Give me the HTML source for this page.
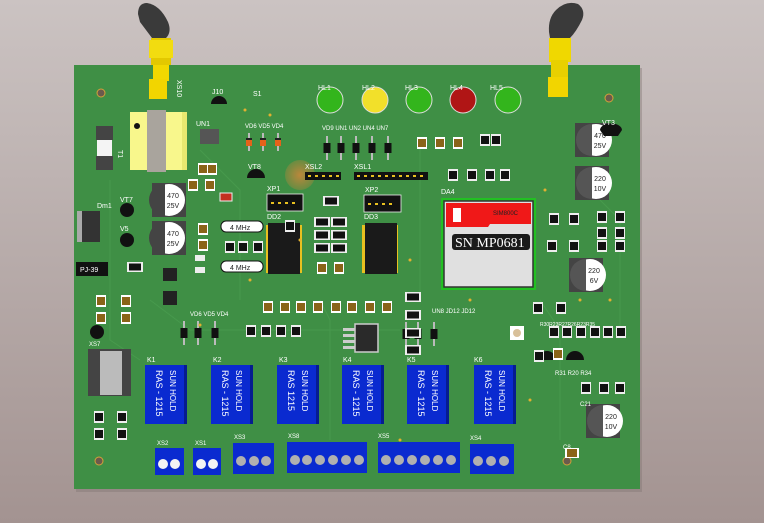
<!DOCTYPE html>
<html><head><meta charset="utf-8"><style>
html,body{margin:0;padding:0;width:764px;height:523px;overflow:hidden;background:#b9adab}
svg{display:block}
text{font-family:"Liberation Sans",sans-serif;fill:#fff}
text.d{fill:#222}
</style></head><body>
<svg width="764" height="523" viewBox="0 0 764 523" xmlns="http://www.w3.org/2000/svg">
<defs>
<linearGradient id="bg" x1="0" y1="0" x2="0" y2="1"><stop offset="0" stop-color="#cbc3c2"/><stop offset="1" stop-color="#a39391"/></linearGradient>
<radialGradient id="glow"><stop offset="0" stop-color="#c9863a" stop-opacity=".9"/><stop offset="1" stop-color="#c9863a" stop-opacity=".3"/></radialGradient>
<g id="cc"><rect x="-5" y="-6" width="10" height="12" fill="#fff"/><rect x="-4" y="-4" width="8" height="8" fill="#8a6418"/></g>
<g id="rr"><rect x="-5" y="-6" width="10" height="12" fill="#eee"/><rect x="-4" y="-4" width="8" height="8" fill="#111"/></g>
<g id="rh"><rect x="-8" y="-5" width="16" height="10" fill="#eee"/><rect x="-6" y="-3.5" width="12" height="7" fill="#111"/></g>
<g id="dv"><line x1="0" y1="-12" x2="0" y2="12" stroke="#bbb" stroke-width="2"/><rect x="-3.5" y="-5" width="7" height="10" fill="#111"/></g>
<g id="dvo"><line x1="0" y1="-9" x2="0" y2="9" stroke="#bbb" stroke-width="2"/><rect x="-3" y="-4" width="6" height="8" fill="#e5621a"/><rect x="-3" y="-4" width="6" height="2" fill="#222"/></g>
</defs>
<rect width="764" height="523" fill="url(#bg)"/>
<rect x="76" y="68" width="566" height="424" fill="#7f7371" opacity=".4"/>
<rect x="74" y="65" width="566" height="424" fill="#3f8f45"/>
<g stroke="#4a9c4f" stroke-width="1" fill="none" opacity=".8">
<path d="M110 180 L110 340 L140 360"/><path d="M200 150 L240 190 L240 300"/><path d="M420 140 L420 300"/><path d="M540 300 L560 330 L560 440"/><path d="M600 200 L620 220 L620 330"/><path d="M320 300 L330 320 L330 440"/><path d="M150 300 L190 330 L400 330"/>
</g>
<g fill="#6b5a4c" stroke="#d4a23a" stroke-width="1"><circle cx="101" cy="93" r="4"/><circle cx="609" cy="98" r="4"/><circle cx="99" cy="461" r="4"/><circle cx="567" cy="461" r="4"/></g>
<!-- antennas -->
<g>
<rect x="151" y="38" width="20" height="27" fill="#e3c800"/><rect x="149" y="40" width="24" height="18" fill="#f2dc10"/>
<rect x="153" y="65" width="16" height="16" fill="#f2d800"/><rect x="149" y="79" width="18" height="20" fill="#f2d500"/>
<path d="M138 14 Q138 3 147 3 Q160 5 168 22 Q172 32 166 38 L152 38 Q146 30 140 22 Z" fill="#3a3a3a"/>
<text x="177" y="80" font-size="7" transform="rotate(90 177 80)">XS10</text>
<rect x="549" y="38" width="22" height="24" fill="#f0d800"/><rect x="551" y="60" width="17" height="18" fill="#e8d000"/><rect x="548" y="77" width="20" height="20" fill="#f2d500"/>
<path d="M549 32 Q548 18 556 10 Q566 0 578 4 Q586 10 582 20 Q576 32 570 38 L550 38 Z" fill="#3a3a3a"/>
</g>
<!-- transformer -->
<rect x="130" y="112" width="56" height="58" fill="#f8f78c"/><rect x="182" y="112" width="5" height="58" fill="#e8e870"/>
<rect x="147" y="110" width="19" height="62" fill="#a9a49d"/><circle cx="137" cy="126" r="3" fill="#111"/>
<text x="118" y="150" font-size="7" transform="rotate(90 118 150)">T1</text>
<rect x="96" y="126" width="17" height="14" fill="#444"/><rect x="97" y="140" width="15" height="16" fill="#f4f4f4"/><rect x="96" y="156" width="17" height="14" fill="#444"/>
<rect x="77" y="211" width="6" height="31" fill="#aaa"/><rect x="82" y="211" width="18" height="31" fill="#333"/>
<text x="97" y="208" font-size="7">Dm1</text>
<rect x="76" y="262" width="32" height="14" fill="#111"/><text x="80" y="272" font-size="7">PJ-39</text>
<!-- electrolytic caps -->
<g font-size="7" text-anchor="middle">
<g transform="translate(169,200)"><rect x="-17" y="-17" width="34" height="34" fill="#444"/><circle r="16" fill="#fff"/><path d="M-4 -16 A16 16 0 0 0 -4 16 Z" fill="#444"/><text class="d" x="4" y="-2">470</text><text class="d" x="4" y="8">25V</text></g>
<g transform="translate(169,238)"><rect x="-17" y="-17" width="34" height="34" fill="#444"/><circle r="16" fill="#fff"/><path d="M-4 -16 A16 16 0 0 0 -4 16 Z" fill="#444"/><text class="d" x="4" y="-2">470</text><text class="d" x="4" y="8">25V</text></g>
<g transform="translate(592,140)"><rect x="-17" y="-17" width="34" height="34" fill="#444"/><circle cx="4" r="16" fill="#fff"/><path d="M0 -16 A16 16 0 0 0 0 16 Z" fill="#555"/><text class="d" x="8" y="-2">470</text><text class="d" x="8" y="8">25V</text></g>
<g transform="translate(592,183)"><rect x="-17" y="-17" width="34" height="34" fill="#444"/><circle cx="4" r="16" fill="#fff"/><path d="M0 -16 A16 16 0 0 0 0 16 Z" fill="#555"/><text class="d" x="8" y="-2">220</text><text class="d" x="8" y="8">10V</text></g>
<g transform="translate(586,275)"><rect x="-17" y="-17" width="34" height="34" fill="#444"/><circle cx="4" r="16" fill="#fff"/><path d="M0 -16 A16 16 0 0 0 0 16 Z" fill="#555"/><text class="d" x="8" y="-2">220</text><text class="d" x="8" y="8">6V</text></g>
<g transform="translate(603,421)"><rect x="-17" y="-17" width="34" height="34" fill="#444"/><circle cx="4" r="16" fill="#fff"/><path d="M0 -16 A16 16 0 0 0 0 16 Z" fill="#555"/><text class="d" x="8" y="-2">220</text><text class="d" x="8" y="8">10V</text></g>
</g>
<g stroke="#ddd" stroke-width="1"><circle cx="330" cy="100" r="13" fill="#33b51c"/><circle cx="375" cy="100" r="13" fill="#f2e02a"/><circle cx="419" cy="100" r="13" fill="#33b51c"/><circle cx="463" cy="100" r="13" fill="#b01515"/><circle cx="508" cy="100" r="13" fill="#33b51c"/></g>
<g font-size="7"><text x="318" y="90">HL1</text><text x="362" y="90">HL2</text><text x="405" y="90">HL3</text><text x="450" y="90">HL4</text><text x="490" y="90">HL5</text></g>
<use href="#dv" x="327" y="148"/><use href="#dv" x="341" y="148"/><use href="#dv" x="356" y="148"/><use href="#dv" x="372" y="148"/><use href="#dv" x="388" y="148"/>
<text x="322" y="130" font-size="6">VD9 UN1 UN2 UN4 UN7</text>
<use href="#dvo" x="249" y="142"/><use href="#dvo" x="263" y="142"/><use href="#dvo" x="278" y="142"/>
<text x="245" y="128" font-size="6">VD6 VD5 VD4</text>
<use href="#dv" x="184" y="333"/><use href="#dv" x="198" y="333"/><use href="#dv" x="215" y="333"/>
<use href="#dv" x="406" y="334"/><use href="#dv" x="418" y="334"/><use href="#dv" x="434" y="334"/>
<text x="190" y="316" font-size="6">VD6 VD5 VD4</text><text x="432" y="313" font-size="6">UN8 JD12 JD12</text>
<rect x="200" y="129" width="19" height="15" fill="#555"/><text x="196" y="126" font-size="7">UN1</text>
<g fill="#111"><path d="M211 104 A8 8 0 0 1 227 104 Z"/><path d="M247 178 A9 9 0 0 1 265 178 Z"/><circle cx="127" cy="210" r="7"/><circle cx="127" cy="240" r="7"/><circle cx="97" cy="332" r="7"/><path d="M600 130 A10 6 0 0 1 622 130 L618 136 L604 136 Z"/><path d="M538 360 A9 9 0 0 1 556 360 Z"/><path d="M566 360 A9 9 0 0 1 584 360 Z"/></g>
<g font-size="7"><text x="212" y="94">J10</text><text x="248" y="169">VT8</text><text x="120" y="202">VT7</text><text x="120" y="231">V5</text><text x="602" y="125">VT3</text><text x="253" y="96">S1</text></g>
<circle cx="300" cy="175" r="15" fill="url(#glow)"/>
<rect x="305" y="172" width="36" height="8" fill="#111"/><rect x="354" y="172" width="74" height="8" fill="#111"/>
<g fill="#e8c020"><rect x="308" y="175" width="3" height="2"/><rect x="315" y="175" width="3" height="2"/><rect x="322" y="175" width="3" height="2"/><rect x="329" y="175" width="3" height="2"/><rect x="336" y="175" width="3" height="2"/></g>
<g fill="#e8c020"><rect x="357" y="175" width="3" height="2"/><rect x="364" y="175" width="3" height="2"/><rect x="371" y="175" width="3" height="2"/><rect x="378" y="175" width="3" height="2"/><rect x="385" y="175" width="3" height="2"/><rect x="392" y="175" width="3" height="2"/><rect x="399" y="175" width="3" height="2"/><rect x="406" y="175" width="3" height="2"/><rect x="413" y="175" width="3" height="2"/><rect x="420" y="175" width="3" height="2"/></g>
<rect x="267" y="194" width="36" height="17" fill="#111" stroke="#eee" stroke-width=".8"/><rect x="364" y="195" width="37" height="17" fill="#111" stroke="#eee" stroke-width=".8"/>
<g fill="#e8c020"><rect x="271" y="202" width="3" height="2"/><rect x="278" y="202" width="3" height="2"/><rect x="285" y="202" width="3" height="2"/><rect x="292" y="202" width="3" height="2"/><rect x="368" y="203" width="3" height="2"/><rect x="375" y="203" width="3" height="2"/><rect x="382" y="203" width="3" height="2"/><rect x="389" y="203" width="3" height="2"/></g>
<g font-size="7"><text x="305" y="169">XSL2</text><text x="354" y="169">XSL1</text><text x="267" y="191">XP1</text><text x="365" y="192">XP2</text></g>
<g fill="#e8c020"><rect x="266" y="225" width="36" height="48"/><rect x="362" y="225" width="36" height="48"/></g>
<rect x="268" y="223" width="32" height="51" fill="#1a1a1a"/><rect x="365" y="223" width="32" height="51" fill="#1a1a1a"/>
<text x="267" y="219" font-size="7">DD2</text><text x="364" y="219" font-size="7">DD3</text>
<rect x="221" y="221" width="42" height="11" rx="5" fill="#fff" stroke="#111"/><rect x="221" y="261" width="42" height="11" rx="5" fill="#fff" stroke="#111"/>
<text class="d" x="230" y="230" font-size="7">4 MHz</text><text class="d" x="230" y="270" font-size="7">4 MHz</text>
<!-- module -->
<rect x="441" y="198" width="95" height="92" fill="#22c022"/><rect x="444" y="201" width="89" height="86" fill="#e0e0e0" stroke="#333" stroke-width="1.5"/>
<path d="M446 203 L531 203 L531 224 L490 224 L488 227 L446 227 Z" fill="#f01818"/>
<rect x="453" y="208" width="8" height="14" fill="#fff"/>
<text class="d" x="493" y="215" font-size="6">SIM800C</text>
<rect x="452" y="234" width="78" height="16" rx="3" fill="#1a1a1a"/><text x="455" y="247" font-size="14" style="font-family:'Liberation Serif',serif">SN MP0681</text>
<text x="441" y="194" font-size="7">DA4</text>
<use href="#cc" x="203" y="169"/><use href="#cc" x="212" y="169"/><use href="#cc" x="193" y="185"/><use href="#cc" x="210" y="185"/>
<use href="#cc" x="203" y="229"/><use href="#cc" x="203" y="245"/>
<use href="#cc" x="101" y="301"/><use href="#cc" x="126" y="301"/><use href="#cc" x="101" y="318"/><use href="#cc" x="126" y="318"/>
<use href="#cc" x="268" y="307"/><use href="#cc" x="285" y="307"/><use href="#cc" x="301" y="307"/><use href="#cc" x="318" y="307"/><use href="#cc" x="336" y="307"/><use href="#cc" x="352" y="307"/><use href="#cc" x="370" y="307"/><use href="#cc" x="387" y="307"/>
<use href="#cc" x="322" y="268"/><use href="#cc" x="339" y="268"/>
<use href="#cc" x="422" y="143"/><use href="#cc" x="440" y="143"/><use href="#cc" x="458" y="143"/>
<use href="#cc" x="558" y="354"/>
<g transform="translate(572,453)"><rect x="-7" y="-5" width="14" height="10" fill="#fff"/><rect x="-5" y="-4" width="10" height="8" fill="#8a6418"/></g>
<use href="#rr" x="453" y="175"/><use href="#rr" x="472" y="175"/><use href="#rr" x="490" y="175"/><use href="#rr" x="505" y="175"/>
<use href="#rr" x="485" y="140"/><use href="#rr" x="496" y="140"/>
<use href="#rr" x="554" y="219"/><use href="#rr" x="574" y="219"/><use href="#rr" x="552" y="246"/><use href="#rr" x="574" y="246"/>
<use href="#rr" x="602" y="217"/><use href="#rr" x="620" y="217"/><use href="#rr" x="602" y="233"/><use href="#rr" x="620" y="233"/><use href="#rr" x="602" y="246"/><use href="#rr" x="620" y="246"/>
<use href="#rr" x="538" y="308"/><use href="#rr" x="561" y="308"/>
<use href="#rr" x="554" y="332"/><use href="#rr" x="567" y="332"/><use href="#rr" x="581" y="332"/><use href="#rr" x="595" y="332"/><use href="#rr" x="608" y="332"/><use href="#rr" x="621" y="332"/>
<use href="#rr" x="539" y="356"/><use href="#rr" x="586" y="388"/><use href="#rr" x="604" y="388"/><use href="#rr" x="620" y="388"/>
<use href="#rr" x="290" y="226"/><use href="#rr" x="230" y="247"/><use href="#rr" x="243" y="247"/><use href="#rr" x="258" y="247"/>
<use href="#rh" x="322" y="222"/><use href="#rh" x="339" y="222"/><use href="#rh" x="322" y="235"/><use href="#rh" x="339" y="235"/><use href="#rh" x="322" y="248"/><use href="#rh" x="339" y="248"/>
<use href="#rh" x="331" y="201"/>
<use href="#rr" x="251" y="331"/><use href="#rr" x="266" y="331"/><use href="#rr" x="281" y="331"/><use href="#rr" x="296" y="331"/>
<use href="#rh" x="413" y="297"/><use href="#rh" x="413" y="315"/><use href="#rh" x="413" y="333"/><use href="#rh" x="413" y="350"/>
<use href="#rh" x="135" y="267"/>
<use href="#rr" x="99" y="417"/><use href="#rr" x="122" y="417"/><use href="#rr" x="99" y="434"/><use href="#rr" x="122" y="434"/>
<rect x="163" y="268" width="14" height="13" fill="#222"/><rect x="163" y="291" width="14" height="14" fill="#222"/>
<rect x="355" y="324" width="23" height="28" fill="#2a2a2a" stroke="#ccc" stroke-width="1.5"/>
<g fill="#ccc"><rect x="343" y="328" width="12" height="3"/><rect x="343" y="334" width="12" height="3"/><rect x="343" y="340" width="12" height="3"/><rect x="343" y="346" width="12" height="3"/></g>
<rect x="195" y="255" width="10" height="6" fill="#eee"/><rect x="195" y="267" width="10" height="6" fill="#eee"/>
<rect x="220" y="193" width="12" height="8" fill="#c43020" stroke="#eee"/>
<g transform="translate(517,333)"><rect x="-7" y="-7" width="14" height="14" fill="#fff"/><circle r="4" fill="#d8c09a"/></g>
<rect x="88" y="349" width="43" height="47" fill="#444"/><rect x="100" y="351" width="22" height="44" fill="#bbb"/>
<!-- relays -->
<g font-size="9">
<g transform="translate(145,365)"><rect width="42" height="59" fill="#0a2ad0"/><rect x="39" width="3" height="59" fill="#061c90"/><text transform="translate(11,5) rotate(90)">RAS - 1215</text><text transform="translate(25,5) rotate(90)" font-size="8">SUN HOLD</text></g>
<g transform="translate(211,365)"><rect width="42" height="59" fill="#0a2ad0"/><rect x="39" width="3" height="59" fill="#061c90"/><text transform="translate(11,5) rotate(90)">RAS - 1215</text><text transform="translate(25,5) rotate(90)" font-size="8">SUN HOLD</text></g>
<g transform="translate(277,365)"><rect width="42" height="59" fill="#0a2ad0"/><rect x="39" width="3" height="59" fill="#061c90"/><text transform="translate(11,5) rotate(90)">RAS  1215</text><text transform="translate(25,5) rotate(90)" font-size="8">SUN HOLD</text></g>
<g transform="translate(342,365)"><rect width="42" height="59" fill="#0a2ad0"/><rect x="39" width="3" height="59" fill="#061c90"/><text transform="translate(11,5) rotate(90)">RAS - 1215</text><text transform="translate(25,5) rotate(90)" font-size="8">SUN HOLD</text></g>
<g transform="translate(407,365)"><rect width="42" height="59" fill="#0a2ad0"/><rect x="39" width="3" height="59" fill="#061c90"/><text transform="translate(11,5) rotate(90)">RAS - 1215</text><text transform="translate(25,5) rotate(90)" font-size="8">SUN HOLD</text></g>
<g transform="translate(474,365)"><rect width="42" height="59" fill="#0a2ad0"/><rect x="39" width="3" height="59" fill="#061c90"/><text transform="translate(11,5) rotate(90)">RAS - 1215</text><text transform="translate(25,5) rotate(90)" font-size="8">SUN HOLD</text></g>
</g>
<g font-size="7"><text x="147" y="362">K1</text><text x="213" y="362">K2</text><text x="279" y="362">K3</text><text x="343" y="362">K4</text><text x="407" y="362">K5</text><text x="474" y="362">K6</text></g>
<g fill="#0a2ad0">
<rect x="155" y="448" width="29" height="27"/><rect x="193" y="448" width="28" height="27"/><rect x="233" y="443" width="41" height="31"/>
<rect x="287" y="442" width="80" height="31"/><rect x="378" y="442" width="82" height="31"/><rect x="470" y="444" width="44" height="30"/>
</g>
<g fill="#f4f4f4"><circle cx="163" cy="464" r="5"/><circle cx="175" cy="464" r="5"/><circle cx="201" cy="464" r="5"/><circle cx="213" cy="464" r="5"/></g>
<g fill="#b0b0b0"><circle cx="241" cy="461" r="5"/><circle cx="254" cy="461" r="5"/><circle cx="266" cy="461" r="5"/>
<circle cx="295" cy="460" r="5"/><circle cx="307" cy="460" r="5"/><circle cx="320" cy="460" r="5"/><circle cx="333" cy="460" r="5"/><circle cx="346" cy="460" r="5"/><circle cx="359" cy="460" r="5"/>
<circle cx="386" cy="460" r="5"/><circle cx="399" cy="460" r="5"/><circle cx="412" cy="460" r="5"/><circle cx="425" cy="460" r="5"/><circle cx="438" cy="460" r="5"/><circle cx="451" cy="460" r="5"/>
<circle cx="478" cy="461" r="5"/><circle cx="491" cy="461" r="5"/><circle cx="504" cy="461" r="5"/></g>
<g font-size="6"><text x="157" y="445">XS2</text><text x="195" y="445">XS1</text><text x="234" y="439">XS3</text><text x="288" y="438">XS8</text><text x="378" y="438">XS5</text><text x="470" y="440">XS4</text><text x="89" y="346">XS7</text><text x="563" y="449">C8</text><text x="580" y="406">C21</text><text x="555" y="375">R31 R20 R34</text><text x="540" y="326" font-size="5">R30R23R27R26R23R35</text></g>
<g fill="#e3b030"><circle cx="245" cy="110" r="1.5"/><circle cx="270" cy="115" r="1.5"/><circle cx="300" cy="240" r="1.5"/><circle cx="410" cy="260" r="1.5"/><circle cx="200" cy="325" r="1.5"/><circle cx="400" cy="440" r="1.5"/><circle cx="545" cy="190" r="1.5"/><circle cx="580" cy="300" r="1.5"/><circle cx="470" cy="300" r="1.5"/><circle cx="530" cy="400" r="1.5"/><circle cx="610" cy="300" r="1.5"/><circle cx="250" cy="280" r="1.5"/></g>
</svg>
</body></html>
